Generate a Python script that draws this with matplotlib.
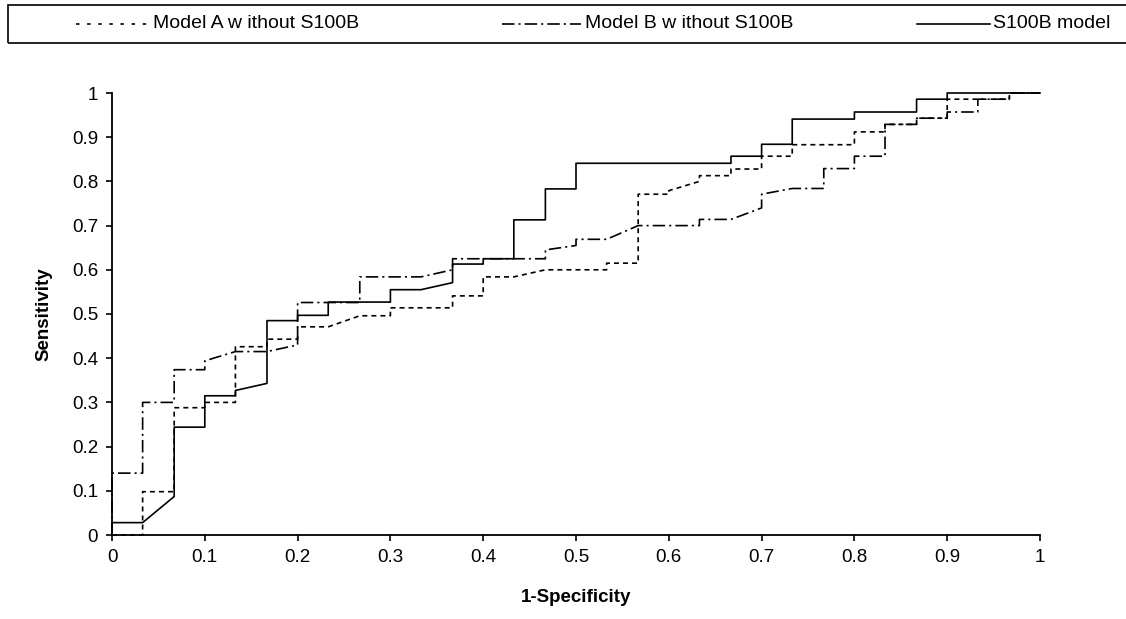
import matplotlib
matplotlib.use("Agg")
import matplotlib.pyplot as plt
from matplotlib.lines import Line2D
from matplotlib.patches import Rectangle
from matplotlib.ticker import FuncFormatter, MultipleLocator

plt.rcParams['font.family'] = ['Liberation Sans', 'DejaVu Sans']
plt.rcParams['lines.scale_dashes'] = False

# ROC points (1-specificity, sensitivity)
model_a_fpr = [0, 0.033, 0.033, 0.067, 0.067, 0.1, 0.1, 0.133, 0.133, 0.167,
               0.167, 0.2, 0.2, 0.233, 0.267, 0.3, 0.3, 0.367, 0.367, 0.4,
               0.4, 0.433, 0.467, 0.533, 0.533, 0.567, 0.567, 0.6, 0.6, 0.633,
               0.633, 0.667, 0.667, 0.7, 0.7, 0.733, 0.733, 0.8, 0.8, 0.833,
               0.833, 0.867, 0.867, 0.9, 0.9, 0.967, 0.967, 1]
model_a_tpr = [0, 0, 0.098, 0.098, 0.288, 0.288, 0.3, 0.3, 0.426, 0.426,
               0.443, 0.443, 0.471, 0.471, 0.496, 0.496, 0.514, 0.514, 0.541, 0.541,
               0.584, 0.584, 0.6, 0.6, 0.615, 0.615, 0.771, 0.771, 0.779, 0.8,
               0.813, 0.813, 0.828, 0.828, 0.857, 0.857, 0.883, 0.883, 0.912, 0.912,
               0.929, 0.929, 0.943, 0.943, 0.986, 0.986, 1, 1]

model_b_fpr = [0, 0, 0.033, 0.033, 0.067, 0.067, 0.1, 0.1, 0.133, 0.167,
               0.2, 0.2, 0.267, 0.267, 0.333, 0.367, 0.367, 0.467, 0.467, 0.5,
               0.5, 0.533, 0.567, 0.633, 0.633, 0.667, 0.7, 0.7, 0.733, 0.767,
               0.767, 0.8, 0.8, 0.833, 0.833, 0.867, 0.867, 0.9, 0.9, 0.933,
               0.933, 0.967, 0.967, 1]
model_b_tpr = [0, 0.14, 0.14, 0.3, 0.3, 0.374, 0.374, 0.394, 0.415, 0.415,
               0.43, 0.526, 0.526, 0.584, 0.584, 0.6, 0.625, 0.625, 0.645, 0.655,
               0.669, 0.669, 0.7, 0.7, 0.714, 0.714, 0.74, 0.771, 0.784, 0.784,
               0.829, 0.829, 0.857, 0.857, 0.929, 0.929, 0.943, 0.943, 0.957, 0.957,
               0.986, 0.986, 1, 1]

s100b_fpr = [0, 0, 0.033, 0.067, 0.067, 0.1, 0.1, 0.133, 0.133, 0.167,
             0.167, 0.2, 0.2, 0.233, 0.233, 0.3, 0.3, 0.333, 0.367, 0.367,
             0.4, 0.4, 0.433, 0.433, 0.467, 0.467, 0.5, 0.5, 0.667, 0.667,
             0.7, 0.7, 0.733, 0.733, 0.8, 0.8, 0.867, 0.867, 0.9, 0.9,
             1]
s100b_tpr = [0, 0.028, 0.028, 0.087, 0.244, 0.244, 0.315, 0.315, 0.327, 0.343,
             0.485, 0.485, 0.497, 0.497, 0.527, 0.527, 0.555, 0.555, 0.571, 0.613,
             0.613, 0.625, 0.625, 0.713, 0.713, 0.783, 0.783, 0.841, 0.841, 0.857,
             0.857, 0.884, 0.884, 0.941, 0.941, 0.957, 0.957, 0.986, 0.986, 1,
             1]

labels = ['Model A w ithout S100B', 'Model B w ithout S100B', 'S100B model']
styles = [(0, (3.6, 2.9)), (0, (9.0, 2.9, 1.5, 2.9)), '-']

W, H = 1126, 619
fig = plt.figure(figsize=(W / 100, H / 100), dpi=100)
ax = fig.add_axes([112 / W, 1 - 535 / H, 928 / W, 442 / H])

series = [(model_a_fpr, model_a_tpr), (model_b_fpr, model_b_tpr), (s100b_fpr, s100b_tpr)]
for (x, y), ls in zip(series, styles):
    ax.plot(x, y, color='black', linestyle=ls, linewidth=1.2, clip_on=False)

ax.set_xlim(0, 1)
ax.set_ylim(0, 1)
ax.xaxis.set_major_locator(MultipleLocator(0.1))
ax.yaxis.set_major_locator(MultipleLocator(0.1))
fmt = FuncFormatter(lambda v, p: f'{v:g}')
ax.xaxis.set_major_formatter(fmt)
ax.yaxis.set_major_formatter(fmt)
for s in ['top', 'right']:
    ax.spines[s].set_visible(False)
for s in ['left', 'bottom']:
    ax.spines[s].set_linewidth(1.3)
ax.tick_params(direction='out', length=4, width=1.2, labelsize=13.5, pad=6)
ax.set_xlabel('1-Specificity', fontsize=13.5, fontweight='bold', labelpad=17)
ax.set_ylabel('Sensitivity', fontsize=13.5, fontweight='bold', labelpad=14)

# legend strip across the top
fig.add_artist(Rectangle((8 / W, 1 - 43 / H), 1.2, 38 / H, transform=fig.transFigure,
                         fill=False, edgecolor='black', linewidth=1.2, clip_on=False))
ly = 1 - 24 / H
legend_lines = [(76, 147, (0, (2.5, 5.5))), (502, 581, styles[1]), (917, 990, '-')]
text_x = [153, 585, 993]
for (x0, x1, ls), tx, lab in zip(legend_lines, text_x, labels):
    fig.add_artist(Line2D([x0 / W, x1 / W], [ly, ly], transform=fig.transFigure,
                          color='black', linestyle=ls, linewidth=1.2))
    fig.text(tx / W, ly, lab, fontsize=14, va='center', ha='left')

fig.savefig('out.png', dpi=100)
